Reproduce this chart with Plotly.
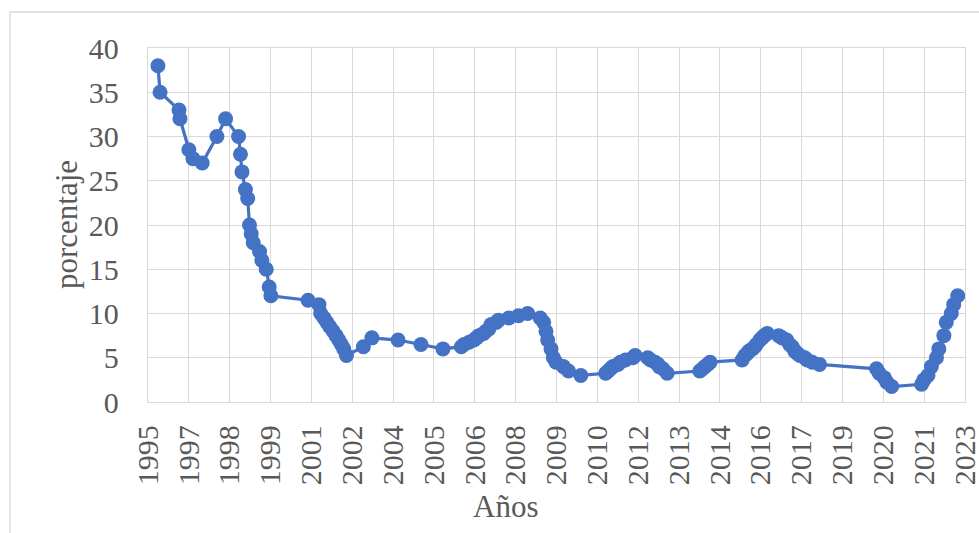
import pandas as pd
import plotly.graph_objects as go

# Policy rate (%) by decision date
fechas = [
    "1996-02-26", "1996-03-23", "1996-11-10", "1996-11-22", "1997-03-11", "1997-04-30",
    "1997-08-21", "1998-02-17", "1998-06-03", "1998-11-09", "1998-12-02", "1998-12-21",
    "1999-02-01", "1999-03-01", "1999-03-23", "1999-04-13", "1999-05-08", "1999-07-24",
    "1999-08-22", "1999-10-14", "1999-11-19", "1999-12-10",
    "2001-03-09", "2001-07-20", "2001-08-10", "2001-09-20", "2001-10-25", "2001-11-30",
    "2002-01-10", "2002-02-15", "2002-03-20", "2002-04-20", "2002-05-20", "2002-06-22",
    "2003-01-15", "2003-04-29", "2004-03-15", "2004-12-20", "2005-09-15",
    "2006-04-28", "2006-05-31", "2006-07-31", "2006-09-29", "2006-10-31", "2006-11-30",
    "2007-01-26", "2007-02-23", "2007-03-30", "2007-04-27", "2007-06-29", "2007-07-27",
    "2007-11-30", "2008-03-28", "2008-07-18", "2008-12-19",
    "2009-01-30", "2009-02-27", "2009-03-20", "2009-04-30", "2009-05-29", "2009-06-30",
    "2009-09-28", "2009-11-30", "2010-04-30",
    "2011-02-28", "2011-03-31", "2011-04-29", "2011-05-27", "2011-07-29", "2011-08-26",
    "2011-10-28", "2012-01-27", "2012-02-24", "2012-07-27", "2012-08-31", "2012-10-26",
    "2012-11-30", "2012-12-14", "2013-01-28", "2013-03-22",
    "2014-04-25", "2014-05-30", "2014-06-27", "2014-07-31", "2014-08-29",
    "2015-09-25", "2015-10-30", "2015-11-27", "2015-12-18",
    "2016-01-29", "2016-02-26", "2016-03-18", "2016-04-29", "2016-05-27", "2016-06-24",
    "2016-07-29", "2016-12-16",
    "2017-01-27", "2017-03-24", "2017-04-28", "2017-05-31", "2017-06-30", "2017-07-31",
    "2017-08-31", "2017-10-31", "2017-11-30", "2018-01-31", "2018-04-30",
    "2020-03-27", "2020-04-30", "2020-06-29", "2020-07-31", "2020-09-29",
    "2021-09-30", "2021-10-29", "2021-12-17",
    "2022-01-28", "2022-03-31", "2022-04-29", "2022-06-30", "2022-07-29", "2022-09-29",
    "2022-10-28", "2022-12-16",
]
tasa = [
    38, 35, 33, 32, 28.5, 27.5,
    27, 30, 32, 30, 28, 26,
    24, 23, 20, 19, 18, 17,
    16, 15, 13, 12,
    11.5, 11, 10, 9.5, 9, 8.5,
    8, 7.5, 7, 6.5, 6, 5.25,
    6.25, 7.25, 7, 6.5, 6,
    6.25, 6.5, 6.75, 7, 7.25, 7.5,
    7.75, 8, 8.25, 8.75, 9, 9.25,
    9.5, 9.75, 10, 9.5,
    9, 8, 7, 6, 5, 4.5,
    4, 3.5, 3,
    3.25, 3.5, 3.75, 4, 4.25, 4.5,
    4.75, 5, 5.25, 5, 4.75, 4.5,
    4.25, 4, 3.75, 3.25,
    3.5, 3.75, 4, 4.25, 4.5,
    4.75, 5.25, 5.5, 5.75,
    6, 6.25, 6.5, 7, 7.25, 7.5,
    7.75, 7.5,
    7.25, 7, 6.5, 6.25, 5.75, 5.5,
    5.25, 5, 4.75, 4.5, 4.25,
    3.75, 3.25, 2.75, 2.25, 1.75,
    2, 2.5, 3,
    4, 5, 6, 7.5, 9, 10,
    11, 12,
]

# Date axis: serial-day scale from 35000 to 45000 with a 500-day major unit
EPOCH = pd.Timestamp("1899-12-30")
serial_min, serial_max, serial_step = 35000, 45000, 500
tick_dates = [EPOCH + pd.Timedelta(days=s) for s in range(serial_min, serial_max + 1, serial_step)]
x_range = [EPOCH + pd.Timedelta(days=serial_min) - pd.Timedelta(hours=12),
           EPOCH + pd.Timedelta(days=serial_max) + pd.Timedelta(hours=12)]

TEXT = "#595959"
GRID = "#d9d9d9"
BLUE = "#4472C4"
FONT = "Liberation Serif, Times New Roman, serif"

fig = go.Figure()
fig.add_trace(go.Scatter(
    x=pd.to_datetime(fechas), y=tasa,
    mode="lines+markers",
    line=dict(color=BLUE, width=3.2),
    marker=dict(color=BLUE, size=15, symbol="circle"),
    showlegend=False,
))

W, H = 979, 533
ml, mr, mt, mb = 148, 14, 48, 131
pw, ph = W - ml - mr, H - mt - mb

fig.update_layout(
    width=W, height=H,
    margin=dict(l=ml, r=mr, t=mt, b=mb, pad=0),
    paper_bgcolor="white", plot_bgcolor="white",
    font=dict(family=FONT, color=TEXT, size=30),
    xaxis=dict(
        type="date", range=x_range,
        tickvals=tick_dates, tickformat="%Y", tickangle=-90,
        ticklabeloverflow="allow",
        showgrid=True, gridcolor=GRID, gridwidth=1.3,
        showline=True, linecolor=GRID, linewidth=1.3, mirror=True,
        ticks="outside", ticklen=10, tickcolor="rgba(0,0,0,0)",
        tickfont=dict(family=FONT, size=30, color=TEXT),
        zeroline=False, automargin=False,
    ),
    yaxis=dict(
        range=[0, 40], tick0=0, dtick=5,
        showgrid=True, gridcolor=GRID, gridwidth=1.3,
        showline=True, linecolor=GRID, linewidth=1.3, mirror=True,
        ticks="outside", ticklen=22, tickcolor="rgba(0,0,0,0)",
        tickfont=dict(family=FONT, size=30, color=TEXT),
        zeroline=False, automargin=False,
    ),
)

# Axis titles
fig.add_annotation(
    text="Años", xref="paper", yref="paper",
    x=(505 - ml) / pw, y=(H - mb - 506) / ph,
    showarrow=False, font=dict(family=FONT, size=31, color=TEXT),
    xanchor="center", yanchor="middle",
)
fig.add_annotation(
    text="porcentaje", xref="paper", yref="paper",
    x=(66 - ml) / pw, y=0.5, textangle=-90,
    showarrow=False, font=dict(family=FONT, size=31, color=TEXT),
    xanchor="center", yanchor="middle",
)

# Chart-area border
fig.add_shape(
    type="rect", xref="paper", yref="paper",
    x0=(10 - ml) / pw, x1=(W + 20 - ml) / pw,
    y0=(H - mb - (H + 20)) / ph, y1=(H - mb - 12) / ph,
    line=dict(color=GRID, width=1.3), fillcolor="rgba(0,0,0,0)", layer="below",
)

fig.write_html("out.html")
